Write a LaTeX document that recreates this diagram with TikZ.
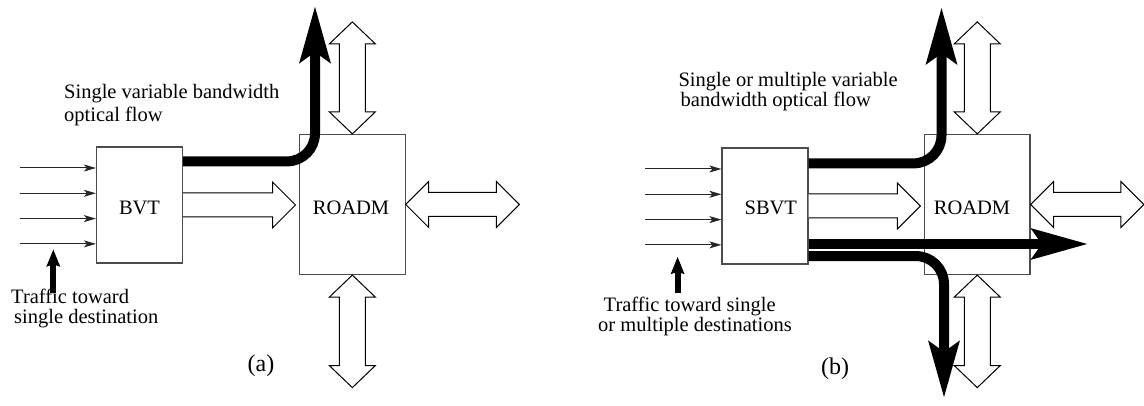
\documentclass[tikz,border=0pt]{standalone}
\usepackage{fontspec}
\setmainfont{Liberation Serif}
\usetikzlibrary{arrows.meta,calc}

\tikzset{
  box/.style={draw=black!70, line width=1.2pt, minimum width=86pt, minimum height=116pt, inner sep=0pt},
  roadm/.style={box, minimum width=105.5pt, minimum height=140pt},
  txt/.style={inner sep=0pt, font=\fontsize{20.5}{24}\selectfont},
  lbl/.style={txt, anchor=base west},
  tag/.style={txt, anchor=base},
  caption/.style={inner sep=0pt, anchor=base, font=\fontsize{24}{28}\selectfont},
  feed/.style={draw=black!85, line width=1pt, -{Stealth[length=12pt,width=7pt,inset=3pt]}},
  flow/.style={line width=10pt, -{Stealth[length=56pt,width=30pt,inset=10pt]}},
  hint/.style={line width=6pt, -{Stealth[length=17pt,width=13pt,inset=2pt]}},
  hollow/.style={draw=black, line width=1pt, fill=white, line join=miter},
}

% vertical hollow double arrow: #1 lower tip, #2 upper tip
\newcommand\HollowV[2]{%
  \draw[hollow] let \p1=(#1), \p2=(#2) in
    (\x1,\y1) -- (\x1+23,\y1+22) -- (\x1+13,\y1+22) -- (\x1+13,\y2-22) -- (\x1+23,\y2-22)
    -- (\x1,\y2) -- (\x1-23,\y2-22) -- (\x1-13,\y2-22) -- (\x1-13,\y1+22) -- (\x1-23,\y1+22) -- cycle;}
% horizontal hollow double arrow: #1 left tip, #2 right tip
\newcommand\HollowH[2]{%
  \draw[hollow] let \p1=(#1), \p2=(#2) in
    (\x1,\y1) -- (\x1+23,\y1+23) -- (\x1+23,\y1+12) -- (\x2-23,\y1+12) -- (\x2-23,\y1+23)
    -- (\x2,\y1) -- (\x2-23,\y1-23) -- (\x2-23,\y1-12) -- (\x1+23,\y1-12) -- (\x1+23,\y1-23) -- cycle;}
% hollow single arrow pointing right: #1 tail, #2 tip
\newcommand\HollowR[2]{%
  \draw[hollow] let \p1=(#1), \p2=(#2) in
    (\x1,\y1+12) -- (\x2-23,\y1+12) -- (\x2-23,\y1+23) -- (\x2,\y1)
    -- (\x2-23,\y1-23) -- (\x2-23,\y1-12) -- (\x1,\y1-12);}

\begin{document}
\begin{tikzpicture}[x=1pt,y=1pt]
\useasboundingbox (0,0) rectangle (1144,406);

% ---------------- (a) BVT ----------------
\node[box]   (bvt)    at (139.5,201) {};
\node[roadm] (roadmA) at (352.35,201.5) {};
\node[tag] (bvtlbl)   at ($(bvt.center)+(0,-9.3)$) {BVT};
\node[tag] (roadmAlbl) at ($(roadmA.center)+(-1.3,-10.5)$) {ROADM};

\foreach \dy in {37,11.7,-13.6,-38.9}
  \draw[feed] ($(bvt.west)+(-76,\dy)$) -- ($(bvt.west)+(0,\dy)$);
\coordinate (hintA) at (53.3,113);
\draw[hint] (hintA) -- ++(0,43.7);

\HollowR{bvt.east}{$(roadmA.west |- bvt.east)+(-3.5,0)$}
\HollowH{roadmA.east}{$(roadmA.east)+(113.7,0)$}
\HollowV{roadmA.north}{$(roadmA.north)+(0,112)$}
\HollowV{$(roadmA.south)+(0,-112.5)$}{roadmA.south}

\coordinate (upA) at (315,400);
\draw[flow, rounded corners=28pt] ($(bvt.north east)+(0,-15)$) -| (upA);

\node[lbl] (flowA1) at (64,307) {Single variable bandwidth};
\node[lbl] (flowA2) at (64,284) {optical flow};
\node[lbl] (trafA1) at (11,102) {Traffic toward};
\node[lbl] (trafA2) at (14,82)  {single destination};
\node[caption] (capA) at (261,34) {(a)};

% ---------------- (b) SBVT ----------------
\node[box]   (sbvt)   at (765,200) {};
\node[roadm] (roadmB) at (977.25,201.5) {};
\node[tag] (sbvtlbl)   at ($(sbvt.center)+(5.8,-9)$) {SBVT};
\node[tag] (roadmBlbl) at ($(roadmB.center)+(-5.2,-10.5)$) {ROADM};

\foreach \dy in {37,11.7,-13.6,-38.9}
  \draw[feed] ($(sbvt.west)+(-76,\dy)$) -- ($(sbvt.west)+(0,\dy)$);
\coordinate (hintB) at (677.6,113.3);
\draw[hint] (hintB) -- ++(0,36);

\HollowR{sbvt.east}{$(roadmB.west |- sbvt.east)+(-3.5,0)$}
\HollowH{roadmB.east}{$(roadmB.east)+(113.3,0)$}
\HollowV{roadmB.north}{$(roadmB.north)+(0,112)$}
\HollowV{$(roadmB.south)+(0,-112.5)$}{roadmB.south}

\coordinate (upB)   at (941.5,398.7);
\coordinate (eastB) at (1088,162);
\coordinate (downB) at (944,8);
\draw[flow, rounded corners=28pt] ($(sbvt.north east)+(0,-16)$) -| (upB);
\draw[flow] (sbvt.east |- eastB) -- (eastB);
\draw[flow, rounded corners=28pt] ($(sbvt.south east)+(0,8.5)$) -| (downB);

\node[lbl] (flowB1) at (678.3,319) {Single or multiple variable};
\node[lbl] (flowB2) at (680.5,299) {bandwidth optical flow};
\node[lbl] (trafB1) at (603.5,94) {Traffic toward single};
\node[lbl] (trafB2) at (598,74)   {or multiple destinations};
\node[caption] (capB) at (835,31) {(b)};
\end{tikzpicture}
\end{document}
